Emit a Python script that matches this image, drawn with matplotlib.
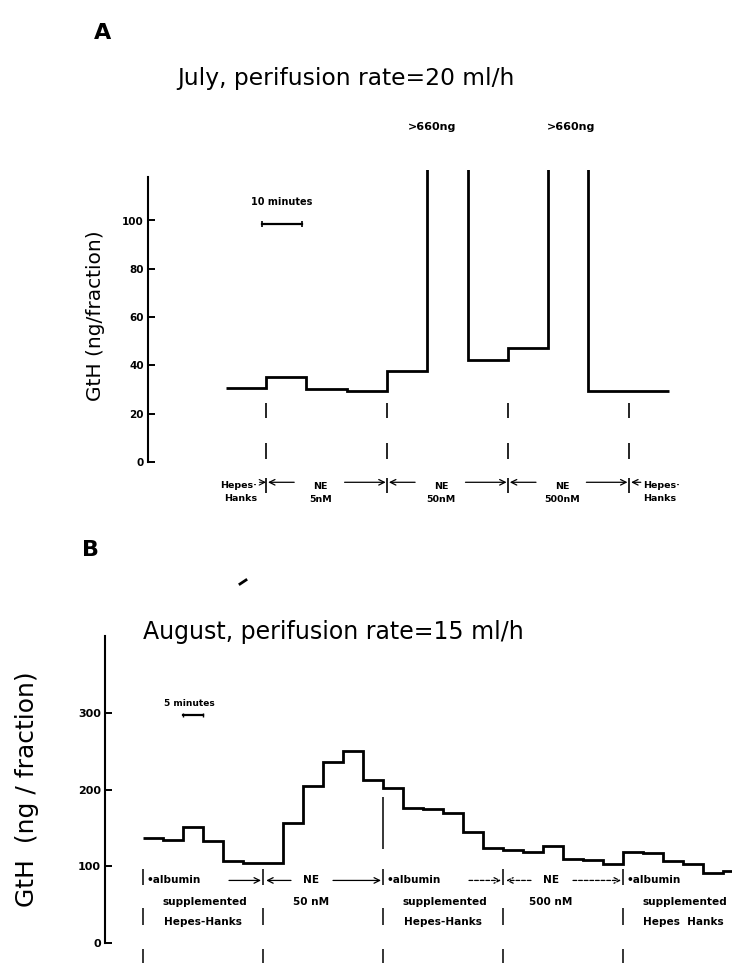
import matplotlib
matplotlib.use("Agg")
import matplotlib.pyplot as plt
from matplotlib.lines import Line2D

# ---------------- data ----------------
# Panel A: 10-minute fractions (time in minutes, 0 = first NE addition)
a_edges = [-10, 0, 10, 20, 30, 40, 50, 60, 70, 80, 100]
a_values = [30.6, 35.1, 30.2, 29.3, 37.6, 660, 42.1, 47.1, 660, 29.3]
a_marks = [0, 30, 60, 90]
a_yticks = [0, 20, 40, 60, 80, 100]
a_spikes = [45, 75]
a_spike_label = ">660ng"
a_period_labels = ["NE\n5nM", "NE\n50nM", "NE\n500nM"]
a_hh_label = "Hepes·\nHanks"

# Panel B: 5-minute fractions
b_edges = list(range(0, 155, 5))
b_values = [137.2, 134.6, 151.3, 132.9, 107.3, 103.8, 103.8, 156.4, 204.3, 235.5,
            250.4, 212.0, 202.0, 175.6, 174.8, 169.2, 144.9, 123.5, 121.4, 119.2,
            126.5, 109.4, 108.1, 103.0, 119.2, 118.0, 107.3, 103.0, 91.5, 94.4]
b_marks = [0, 30, 60, 90, 120]
b_yticks = [0, 100, 200, 300]
b_conc = ["50 nM", "500 nM"]
b_hh = ["Hepes-Hanks", "Hepes-Hanks", "Hepes  Hanks"]

W, H = 732, 963
fig = plt.figure(figsize=(W / 100, H / 100), dpi=100)
fig.patch.set_facecolor("white")


def fx(px):
    return px / W


def fy(py):
    return 1 - py / H


def style_axis(ax, bounds, fs):
    for s in ["top", "right", "bottom"]:
        ax.spines[s].set_visible(False)
    ax.spines["left"].set_linewidth(1.5)
    ax.spines["left"].set_bounds(*bounds)
    ax.tick_params(axis="y", direction="in", length=5, width=1.4, labelsize=fs, pad=3)
    for t in ax.get_yticklabels():
        t.set_fontweight("bold")
    ax.set_xticks([])
    ax.patch.set_alpha(0)


# ---------------- Panel A ----------------
axA = fig.add_axes([fx(148), fy(462), fx(720) - fx(148), 121 * 2.415 / H])
axA.set_xlim((148 - 266) / 4.03, (720 - 266) / 4.03)
axA.set_ylim(0, 121)
axA.stairs(a_values, a_edges, baseline=None, color="black", lw=2.0)
axA.set_yticks(a_yticks)
style_axis(axA, (0, 118), 7.5)
axA.set_ylabel("GtH (ng/fraction)", fontsize=14.5, labelpad=12)

# time-scale bar
axA.plot([-1, 9], [98.6, 98.6], color="black", lw=1.6, marker="|", ms=4, mew=1.2)
axA.text(4, 107.5, "10 minutes", ha="center", va="center", fontsize=7, fontweight="bold")

# spike labels
for sx, off in zip(a_spikes, [-3.8, 0.6]):
    axA.text(sx + off, 121 + (170 - 127) / 2.415, a_spike_label, ha="center",
             va="center", fontsize=8, fontweight="bold", clip_on=False)

# dashed marks
axA.vlines(a_marks, 18.2, 24.4, color="black", lw=1.2)
axA.vlines(a_marks, 1.2, 7.9, color="black", lw=1.2)
axA.vlines(a_marks, -12.8, -6.6, color="black", lw=1.2, clip_on=False)

row1 = -8.4
row2 = -16.4
lab_kw = dict(fontsize=6.8, fontweight="bold", clip_on=False)
axA.text(-2.2, (row1 + row2) / 2, a_hh_label, ha="right", va="center",
         linespacing=1.6, **lab_kw)
axA.annotate("", xy=(0, row1), xytext=(-1.6, row1),
             arrowprops=dict(arrowstyle="->", lw=0.8, shrinkA=0, shrinkB=0),
             annotation_clip=False)
for i, lab in enumerate(a_period_labels):
    s = a_marks[i]
    e = a_marks[i + 1]
    c = (s + e) / 2 - 1.5
    axA.text(c, (row1 + row2) / 2 - 0.6, lab, ha="center", va="center",
             linespacing=1.6, **lab_kw)
    axA.annotate("", xy=(s + 0.5, row1), xytext=(c - 6.5, row1),
                 arrowprops=dict(arrowstyle="->", lw=0.9, shrinkA=0, shrinkB=0),
                 annotation_clip=False)
    axA.annotate("", xy=(e - 0.3, row1), xytext=(c + 6.0, row1),
                 arrowprops=dict(arrowstyle="->", lw=0.9, shrinkA=0, shrinkB=0),
                 annotation_clip=False)
axA.annotate("", xy=(90.6, row1), xytext=(93.0, row1),
             arrowprops=dict(arrowstyle="->", lw=0.9, shrinkA=0, shrinkB=0),
             annotation_clip=False)
axA.text(93.6, (row1 + row2) / 2, a_hh_label, ha="left", va="center",
         linespacing=1.6, **lab_kw)

fig.text(fx(94), fy(33), "A", fontsize=16, fontweight="bold", ha="left", va="center")
fig.text(fx(177), fy(79), "July, perifusion rate=20 ml/h", fontsize=16.8,
         ha="left", va="center")

# ---------------- Panel B ----------------
axB = fig.add_axes([fx(105), fy(943), fx(732) - fx(105), 400 * 0.7667 / H])
axB.set_xlim((105 - 143) / 4.0, (732 - 143) / 4.0)
axB.set_ylim(0, 400)
axB.stairs(b_values, b_edges, baseline=None, color="black", lw=2.0)
axB.set_yticks(b_yticks)
style_axis(axB, (0, 400), 8)
axB.set_ylabel("GtH  (ng / fraction)", fontsize=18, labelpad=28)

axB.plot([10, 15], [297, 297], color="black", lw=1.6, marker="|", ms=3, mew=1.0)
axB.text(11.5, 313, "5 minutes", ha="center", va="center", fontsize=6.5, fontweight="bold")

# marks
axB.vlines(b_marks, 75, 96.6, color="black", lw=1.1)
axB.vlines(b_marks, 24, 45, color="black", lw=1.1)
axB.vlines(b_marks, -27, -8, color="black", lw=1.1, clip_on=False)
axB.vlines([b_marks[2]], 122, 190, color="black", lw=1.1)

r1, r2, r3 = 81.6, 53.8, 28.0
bk = dict(fontsize=7.6, fontweight="bold", clip_on=True)
for k, s in enumerate([0, 60, 120]):
    axB.text(s + 0.8, r1, "•albumin", ha="left", va="center", **bk)
    axB.text(s + 15.5, r2, "supplemented", ha="center", va="center", **bk)
    axB.text(s + 15.0, r3, b_hh[k], ha="center", va="center", **bk)
    ls = "-" if k == 0 else (0, (3, 1.5))
    axB.annotate("", xy=(s + 29.5, r1), xytext=(s + 21.5, r1),
                 arrowprops=dict(arrowstyle="->", lw=0.9, ls=ls, shrinkA=0, shrinkB=0),
                 annotation_clip=True)
for k, s in enumerate([30, 90]):
    axB.text(s + 12, r1, "NE", ha="center", va="center", **bk)
    axB.text(s + 12, r2, b_conc[k], ha="center", va="center", **bk)
    ls = "-" if k == 0 else (0, (3, 1.5))
    axB.annotate("", xy=(s + 0.8, r1), xytext=(s + 7, r1),
                 arrowprops=dict(arrowstyle="->", lw=0.9, ls=ls, shrinkA=0, shrinkB=0))
    axB.annotate("", xy=(s + 29.5, r1), xytext=(s + 17.5, r1),
                 arrowprops=dict(arrowstyle="->", lw=0.9, ls=ls, shrinkA=0, shrinkB=0))

fig.text(fx(82), fy(550), "B", fontsize=16, fontweight="bold", ha="left", va="center")
fig.text(fx(143), fy(632), "August, perifusion rate=15 ml/h", fontsize=17,
         ha="left", va="center")
# small scan speck below the B label
fig.add_artist(Line2D([fx(240), fx(246)], [fy(584), fy(580)], color="black", lw=2))

fig.savefig("out.png", dpi=100, facecolor="white")
